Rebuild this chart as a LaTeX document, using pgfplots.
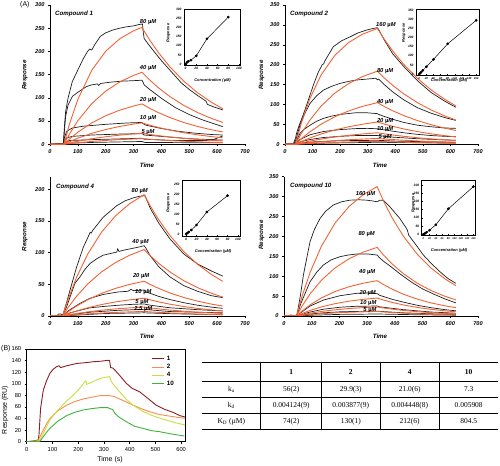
\documentclass[border=0pt]{standalone}
\usepackage{pgfplots}
\pgfplotsset{compat=1.18}
\usepackage{fontspec}
\setmainfont{Liberation Sans}
\newfontfamily\tabfont{Liberation Serif}
\definecolor{fitor}{RGB}{242,98,52}
\definecolor{expk}{RGB}{30,30,30}
\definecolor{cone}{RGB}{140,30,40}
\definecolor{ctwo}{RGB}{248,140,80}
\definecolor{cfour}{RGB}{200,224,60}
\definecolor{cten}{RGB}{60,180,60}
\pgfplotsset{
  mainax/.style={scale only axis, anchor=south west, axis x line*=bottom, axis y line*=left, tick align=outside,
    major tick length=2bp, xmin=0, xmax=700, xtick={0,100,...,700}, ymin=0,
    tick label style={font=\fontsize{5.6}{6}\selectfont\bfseries\itshape},
    /pgf/number format/assume math mode=true,
    axis line style={line width=0.5bp}, tick style={line width=0.5bp,black},
    width=195bp, height=139.3bp},
  ex/.style={color=expk, line width=0.7bp, mark=none},
  ft/.style={color=fitor, line width=0.9bp, mark=none},
  inset/.style={scale only axis, anchor=south west, tick align=inside, major tick length=1.2bp,
    xtick pos=left, ytick pos=left,
    tick label style={font=\fontsize{3.3}{3.5}\selectfont\bfseries\itshape},
    /pgf/number format/assume math mode=true,
    axis line style={line width=0.5bp}, tick style={line width=0.4bp,black},
    xticklabel style={yshift=1bp}, yticklabel style={xshift=1bp},
    axis background/.style={fill=white}},
  ip/.style={black, line width=0.5bp, mark=*, mark size=1.1bp},
}
\tikzset{lab/.style={font=\fontsize{5.8}{6}\selectfont\bfseries\itshape, inner sep=0pt},
  axl/.style={font=\fontsize{6.2}{7}\selectfont\bfseries\itshape, inner sep=0pt},
  ilab/.style={font=\fontsize{4}{4.5}\selectfont\bfseries\itshape, inner sep=0pt},
  tb/.style={font=\tabfont\fontsize{7.5}{8}\selectfont, inner sep=0pt}}
\begin{document}
\begin{tikzpicture}[x=1bp,y=1bp]
\useasboundingbox (0,0) rectangle (500,466);
% ---------------- Compound 1 ----------------
\begin{axis}[mainax, at={(50bp,321.7bp)}, ymax=300, ytick={0,50,...,300}]
\addplot[ex] coordinates {(0,0)(40,2)(48,2)(52,40)(56,70)(65,100)(80,135)(100,160)(120,185)(135,200)(142,205)(150,203)(160,214)(180,232)(200,240)(225,246)(250,250)(275,253)(300,255)(320,258)(332,259)(335,240)(338,228)(345,222)(360,210)(380,195)(400,180)(430,160)(460,140)(470,133)(480,128)(500,118)(530,105)(560,93)(565,86)(590,80)(620,74)};
\addplot[ex] coordinates {(0,0)(48,1)(52,30)(56,60)(65,85)(80,103)(100,112)(130,124)(150,128)(170,130)(175,127)(182,131)(220,134)(260,136)(300,137)(330,138)(334,134)(338,128)(360,117)(400,99)(450,79)(500,64)(550,52)(600,42)(620,38)};
\addplot[ex] coordinates {(0,0)(48,1)(52,15)(60,28)(80,35)(120,39)(200,43)(280,46)(330,47)(335,44)(345,41)(400,34)(460,28)(520,24)(580,21)(620,20)};
\addplot[ex] coordinates {(0,0)(48,1)(52,8)(60,14)(80,17)(150,20)(250,22)(330,23)(338,20)(400,17)(500,12)(620,9)};
\addplot[ex] coordinates {(0,0)(48,0)(55,4)(70,8)(150,10)(330,13)(338,11)(450,8)(560,8)(590,11)(620,18)};
\addplot[ex] coordinates {(0,0)(50,0)(60,2)(150,4)(330,6)(340,4)(620,3)};
\addplot[ft] coordinates {(0,0)(50,0)(70,43.7)(100,96.7)(150,159.5)(200,200.4)(250,227.1)(300,244.4)(330,251.7)(360,222.6)(390,196.8)(430,167.1)(480,136.1)(530,110.8)(580,90.3)(620,76.6)};
\addplot[ft] coordinates {(0,0)(50,0)(70,22.2)(100,50.7)(150,87.7)(200,114.6)(250,134.2)(300,148.4)(330,155.1)(360,137.2)(390,121.3)(430,102.9)(480,83.8)(530,68.3)(580,55.6)(620,47.2)};
\addplot[ft] coordinates {(0,0)(50,0)(70,11.2)(100,26.0)(150,46.0)(200,61.5)(250,73.4)(300,82.5)(330,86.9)(360,76.8)(390,68.0)(430,57.7)(480,47.0)(530,38.3)(580,31.2)(620,26.5)};
\addplot[ft] coordinates {(0,0)(50,0)(70,5.6)(100,13.2)(150,23.6)(200,31.8)(250,38.4)(300,43.6)(330,46.1)(360,40.8)(390,36.1)(430,30.6)(480,24.9)(530,20.3)(580,16.5)(620,14.0)};
\addplot[ft] coordinates {(0,0)(50,0)(70,2.8)(100,6.6)(150,12.0)(200,16.2)(250,19.7)(300,22.4)(330,23.8)(360,21.0)(390,18.6)(430,15.8)(480,12.9)(530,10.5)(580,8.5)(620,7.2)};
\addplot[ft] coordinates {(0,0)(50,0)(70,1.4)(100,3.4)(150,6.1)(200,8.3)(250,10.1)(300,11.5)(330,12.2)(360,10.8)(390,9.5)(430,8.1)(480,6.6)(530,5.4)(580,4.4)(620,3.7)};
\node[lab] at (axis cs:352,263.6) {80 {\upshape µ}M};
\node[lab] at (axis cs:352,163.8) {40 {\upshape µ}M};
\node[lab] at (axis cs:352,95.5) {20 {\upshape µ}M};
\node[lab] at (axis cs:352,56) {10 {\upshape µ}M};
\node[lab] at (axis cs:352,27) {5 {\upshape µ}M};
\end{axis}
% ---------------- Compound 2 ----------------
\begin{axis}[mainax, at={(285bp,321.7bp)}, width=193bp, ymax=350, ytick={0,50,...,350}]
\addplot[ex] coordinates {(0,0)(30,0)(34,8)(38,15)(42,28)(50,45)(66,74)(85,112)(103,149)(120,180)(135,200)(140,202)(145,210)(175,245)(205,260)(236,270)(265,280)(296,287)(320,291)(335,293)(340,288)(360,262)(390,228)(430,196)(480,160)(530,130)(580,108)(620,93)};
\addplot[ex] coordinates {(0,0)(30,0)(35,5)(40,12)(54,48)(70,75)(91,103)(115,122)(139,136)(170,146)(200,153)(230,158)(260,161.5)(300,164)(330,166)(335,162)(340,164)(360,150)(390,132)(430,112)(480,92)(530,78)(580,67)(620,60)};
\addplot[ex] coordinates {(0,0)(35,2)(40,6)(54,27)(70,38)(91,48)(115,58)(139,65)(170,71)(200,75)(260,79.5)(300,79)(335,77)(340,75)(360,70)(390,63)(430,55)(480,48)(530,44)(580,41)(620,40)};
\addplot[ex] coordinates {(0,0)(38,1)(54,12)(91,24)(139,32)(200,37)(260,39.5)(300,40)(335,39)(390,33)(430,29)(480,25)(530,22)(580,20)(620,19)};
\addplot[ex] coordinates {(0,0)(38,0)(54,6)(91,12)(139,17)(200,20)(260,22)(335,22)(390,18)(480,14)(580,11)(620,10)};
\addplot[ex] coordinates {(0,0)(40,0)(54,3)(100,6)(200,9)(335,10)(400,8)(620,5)};
\addplot[ex] coordinates {(0,0)(40,0)(60,1)(150,3)(335,5)(620,3)};
\addplot[ft] coordinates {(0,0)(38,0)(60,54.7)(90,114.2)(130,173.0)(180,222.9)(230,255.3)(280,276.3)(335,291)(360,264.1)(390,235.1)(430,201.3)(480,165.9)(530,136.6)(580,112.6)(620,96.4)};
\addplot[ft] coordinates {(0,0)(38,0)(60,28.0)(90,60.5)(130,95.3)(180,128.2)(230,152.3)(280,169.8)(335,183.7)(360,166.7)(390,148.4)(430,127.1)(480,104.7)(530,86.2)(580,71.1)(620,60.8)};
\addplot[ft] coordinates {(0,0)(38,0)(60,14.2)(90,31.2)(130,50.1)(180,69.0)(230,83.6)(280,95.0)(335,104.6)(360,94.9)(390,84.5)(430,72.4)(480,59.6)(530,49.1)(580,40.5)(620,34.6)};
\addplot[ft] coordinates {(0,0)(38,0)(60,7.1)(90,15.8)(130,25.7)(180,35.8)(230,43.9)(280,50.3)(335,56.0)(360,50.8)(390,45.2)(430,38.7)(480,31.9)(530,26.3)(580,21.7)(620,18.5)};
\addplot[ft] coordinates {(0,0)(38,0)(60,3.6)(90,8.0)(130,13.0)(180,18.2)(230,22.5)(280,25.9)(335,29.0)(360,26.3)(390,23.4)(430,20.1)(480,16.5)(530,13.6)(580,11.2)(620,9.6)};
\addplot[ft] coordinates {(0,0)(38,0)(60,1.8)(90,4.0)(130,6.5)(180,9.2)(230,11.4)(280,13.1)(335,14.7)(360,13.3)(390,11.9)(430,10.2)(480,8.4)(530,6.9)(580,5.7)(620,4.9)};
\addplot[ft] coordinates {(0,0)(38,0)(60,0.9)(90,2.0)(130,3.3)(180,4.7)(230,5.8)(280,6.7)(335,7.4)(360,6.7)(390,6.0)(430,5.1)(480,4.2)(530,3.5)(580,2.9)(620,2.5)};
\node[lab] at (axis cs:366,300) {160 {\upshape µ}M};
\node[lab] at (axis cs:363,184) {80 {\upshape µ}M};
\node[lab] at (axis cs:363,107) {40 {\upshape µ}M};
\node[lab] at (axis cs:363,59) {20 {\upshape µ}M};
\node[lab] at (axis cs:363,37.7) {10 {\upshape µ}M};
\node[lab] at (axis cs:363,19) {5 {\upshape µ}M};
\end{axis}
% ---------------- Compound 4 ----------------
\begin{axis}[mainax, at={(50bp,150bp)}, ymax=220, ytick={0,50,...,200}]
\addplot[ex] coordinates {(0,0)(25,0)(30,3)(40,3)(45,1)(48,4)(60,22)(72,41)(96,78)(120,109)(140,128)(144,132)(148,131)(153,135)(191,156)(239,174)(270,182)(299,186.5)(320,189)(341,190)(345,186)(360,170)(390,147)(430,122)(480,98)(530,82)(580,71)(620,63)};
\addplot[ex] coordinates {(0,0)(45,1)(60,15)(72,30)(90,52)(108,62)(126,74)(144,83)(170,91)(191,96)(220,99)(240,101)(243,106)(248,102)(265,104)(287,106)(320,109)(338,111)(343,108)(360,95)(390,78)(430,62)(480,48)(530,39)(580,32)(620,29)};
\addplot[ex] coordinates {(0,0)(45,1)(60,6)(72,10)(108,20)(144,28)(191,34)(245,38)(280,39)(290,42)(300,40)(338,41)(345,38)(390,31)(430,26)(480,21)(530,17)(580,14)(620,12)};
\addplot[ex] coordinates {(0,0)(45,0)(72,5)(108,9)(144,13)(191,15)(245,17)(300,18.5)(338,19)(360,17)(430,13)(530,10)(620,8)};
\addplot[ex] coordinates {(0,0)(50,0)(72,2)(144,6)(245,9)(338,10.5)(430,7)(620,5)};
\addplot[ex] coordinates {(0,0)(50,0)(100,1.5)(200,4)(338,5)(450,3.5)(620,2)};
\addplot[ft] coordinates {(0,0)(45,0)(65,26.5)(95,60.7)(135,97.5)(185,132.4)(235,158.1)(285,177.1)(338,191.7)(360,173.8)(390,152.1)(430,127.3)(480,101.9)(530,81.6)(580,65.3)(620,54.7)};
\addplot[ft] coordinates {(0,0)(45,0)(65,13.4)(95,30.9)(135,50.4)(185,69.7)(235,84.4)(285,95.8)(338,104.9)(360,95.1)(390,83.2)(430,69.7)(480,55.8)(530,44.7)(580,35.8)(620,29.9)};
\addplot[ft] coordinates {(0,0)(45,0)(65,6.7)(95,15.6)(135,25.6)(185,35.7)(235,43.6)(285,49.8)(338,54.9)(360,49.8)(390,43.6)(430,36.5)(480,29.2)(530,23.4)(580,18.7)(620,15.7)};
\addplot[ft] coordinates {(0,0)(45,0)(65,3.4)(95,7.9)(135,12.9)(185,18.1)(235,22.2)(285,25.4)(338,28.1)(360,25.5)(390,22.3)(430,18.7)(480,14.9)(530,12.0)(580,9.6)(620,8.0)};
\addplot[ft] coordinates {(0,0)(45,0)(65,1.7)(95,3.9)(135,6.5)(185,9.1)(235,11.2)(285,12.8)(338,14.2)(360,12.9)(390,11.3)(430,9.4)(480,7.6)(530,6.0)(580,4.8)(620,4.1)};
\addplot[ft] coordinates {(0,0)(45,0)(65,0.85)(95,2.0)(135,3.3)(185,4.6)(235,5.7)(285,6.5)(338,7.2)(360,6.5)(390,5.7)(430,4.8)(480,3.8)(530,3.1)(580,2.5)(620,2.1)};
\node[lab] at (axis cs:322,198) {80 {\upshape µ}M};
\node[lab] at (axis cs:325,116.7) {40 {\upshape µ}M};
\node[lab] at (axis cs:327,63.4) {20 {\upshape µ}M};
\node[lab] at (axis cs:335,38) {10 {\upshape µ}M};
\node[lab] at (axis cs:330,22.5) {5 {\upshape µ}M};
\node[lab] at (axis cs:335,11) {2.5 {\upshape µ}M};
\end{axis}
% ---------------- Compound 10 ----------------
\begin{axis}[mainax, at={(284bp,150bp)}, width=194bp, ymax=350, ytick={0,50,...,350}]
\addplot[ex] coordinates {(0,0)(20,0)(25,3)(30,0)(45,0)(50,15)(60,55)(70,103)(94,187)(110,218)(130,245)(150,263)(178,279)(208,287)(238,291)(270,292)(298,291)(320,289)(337,287)(345,291)(358,291)(380,276)(418,245)(440,222)(445,216)(450,203)(480,175)(503,153)(530,133)(563,111)(590,95)(620,82)};
\addplot[ex] coordinates {(0,0)(45,0)(50,8)(60,30)(75,55)(94,86)(118,110)(142,128)(170,141)(202,149)(230,153)(262,155.8)(300,156)(337,153)(342,148)(360,137)(382,126)(420,105)(460,85)(500,68)(540,55)(580,43)(620,33)};
\addplot[ex] coordinates {(0,0)(45,0)(60,8)(94,25)(142,40)(202,51)(262,57)(300,58)(337,56)(345,52)(390,42)(430,35)(480,27)(530,21)(580,16)(620,13)};
\addplot[ex] coordinates {(0,0)(45,0)(60,3)(94,10)(142,17)(202,22)(262,24.5)(337,25)(345,23)(430,16)(530,10)(620,7)};
\addplot[ex] coordinates {(0,0)(50,0)(94,5)(142,8)(202,10.5)(262,11.5)(337,12)(430,8)(530,5.5)(620,4)};
\addplot[ex] coordinates {(0,0)(50,0)(100,2)(200,4)(337,5)(450,3.5)(620,2)};
\addplot[ft] coordinates {(0,0)(45,0)(65,49.2)(95,111.0)(135,175.4)(185,234.2)(235,275.4)(285,304.3)(336,325)(360,287.6)(390,246.8)(430,201.2)(480,155.9)(530,120.8)(580,93.6)(620,76.3)};
\addplot[ft] coordinates {(0,0)(45,0)(65,24.7)(95,56.3)(135,89.9)(185,121.3)(235,143.9)(285,160.3)(336,172.4)(360,152.5)(390,130.9)(430,106.8)(480,82.7)(530,64.1)(580,49.7)(620,40.5)};
\addplot[ft] coordinates {(0,0)(45,0)(65,12.4)(95,28.3)(135,45.5)(185,61.7)(235,73.6)(285,82.3)(336,88.8)(360,78.6)(390,67.4)(430,55.0)(480,42.6)(530,33.0)(580,25.6)(620,20.9)};
\addplot[ft] coordinates {(0,0)(45,0)(65,6.2)(95,14.2)(135,22.9)(185,31.1)(235,37.3)(285,41.8)(336,45.1)(360,39.9)(390,34.2)(430,27.9)(480,21.6)(530,16.8)(580,13.0)(620,10.6)};
\addplot[ft] coordinates {(0,0)(45,0)(65,3.1)(95,7.1)(135,11.5)(185,15.6)(235,18.8)(285,21.0)(336,22.7)(360,20.1)(390,17.2)(430,14.1)(480,10.9)(530,8.4)(580,6.5)(620,5.3)};
\addplot[ft] coordinates {(0,0)(45,0)(65,1.6)(95,3.6)(135,5.8)(185,7.8)(235,9.4)(285,10.5)(336,11.4)(360,10.1)(390,8.7)(430,7.1)(480,5.5)(530,4.2)(580,3.3)(620,2.7)};
\node[lab] at (axis cs:294,305.8) {160 {\upshape µ}M};
\node[lab] at (axis cs:298,205) {80 {\upshape µ}M};
\node[lab] at (axis cs:300,110) {40 {\upshape µ}M};
\node[lab] at (axis cs:302,57) {20 {\upshape µ}M};
\node[lab] at (axis cs:304,33.4) {10 {\upshape µ}M};
\node[lab] at (axis cs:310,15) {5 {\upshape µ}M};
\end{axis}
% ---------------- Insets ----------------
\begin{axis}[inset, at={(184bp,401bp)}, width=56bp, height=56bp, xmin=-3, xmax=102, ymin=-4, ymax=300, xtick={0,20,...,100}, ytick={0,50,...,300}]
\addplot[ip] coordinates {(0,0)(2.5,10)(5,16)(10,22)(20,46)(40,138)(80,256)};
\end{axis}
\begin{axis}[inset, at={(416bp,391bp)}, width=63bp, height=66bp, xmin=-9, xmax=168, ymin=-5, ymax=355, xtick={0,20,...,160}, ytick={0,50,...,350},
  xticklabel style={font=\fontsize{2.8}{3}\selectfont\bfseries\itshape}]
\addplot[ip] coordinates {(0,0)(2.5,5)(5,10)(10,20)(20,40)(40,80)(80,165)(160,293)};
\end{axis}
\begin{axis}[inset, at={(182bp,230bp)}, width=58bp, height=56bp, xmin=-8, xmax=104, ymin=-10, ymax=270, xtick={0,20,...,100}, ytick={0,50,...,250}]
\addplot[ip] coordinates {(0,0)(2.5,5)(5,10)(10,20)(20,45)(40,110)(80,192)};
\end{axis}
\begin{axis}[inset, at={(421.7bp,231bp)}, width=53.3bp, height=55bp, xmin=-5, xmax=165, ymin=-4, ymax=330, xtick={0,20,...,160}, ytick={0,50,...,300},
  xticklabel style={font=\fontsize{2.6}{3}\selectfont\bfseries\itshape}]
\addplot[ip] coordinates {(0,0)(5,5)(10,12)(20,25)(40,58)(80,155)(160,290)};
\end{axis}
% ---------------- Panel B ----------------
\begin{axis}[scale only axis, anchor=south west, at={(26.7bp,24.3bp)}, width=158.3bp, height=92.7bp,
  xmin=0, xmax=615, ymin=0, ymax=160, xtick={0,100,...,600}, ytick={0,20,...,160},
  tick align=outside, major tick length=2bp, xtick pos=left, ytick pos=left,
  tick label style={font=\fontsize{5.8}{6}\selectfont},
  /pgf/number format/assume math mode=true,
  axis line style={line width=0.5bp}, tick style={line width=0.5bp,black},
  legend style={draw=none, fill=none, at={(0.79,0.95)}, anchor=north west,
    font=\fontsize{6.3}{7}\selectfont\bfseries, row sep=-1.5bp, inner sep=0pt},
  legend cell align=left,
  legend image code/.code={\draw[#1] (0bp,0bp) -- (12bp,0bp);}]
\addplot[cone, line width=0.9bp, mark=none] coordinates {(0,0)(20,1)(35,2)(45,3)(47.7,11.5)(54,57.6)(64.5,89)(77,105)(90,118)(103,125)(116,129.5)(126,131)(131.6,127.8)(140,129)(155,131)(194,135)(230,136.5)(258,138)(290,139)(316,140.5)(322,140)(326,128)(335,127)(342,124)(360,115)(387,100.7)(410,92)(439,86)(470,75)(503,63)(535,56)(568,50.7)(595,45)(615,42.6)};
\addlegendentry{1}
\addplot[ctwo, line width=0.9bp, mark=none] coordinates {(0,0)(30,1)(45,2)(48,5.8)(60,16)(75,29)(90,40)(120,53)(155,63)(185,69)(219,73.7)(250,76.5)(284,79.4)(322,79.4)(340,78)(361,73.7)(385,69)(413,63)(445,57)(477,51.8)(510,47.5)(542,45)(580,42.5)(615,40.3)};
\addlegendentry{2}
\addplot[cfour, line width=0.9bp, mark=none] coordinates {(0,0)(45,1)(48,1)(60,10)(75,24)(90,37.4)(120,54)(155,70)(180,80)(206,92)(226,103.6)(230,105)(232,99)(250,102)(284,109)(316,112)(322,112)(329,103.6)(340,97)(361,86)(385,74)(413,63)(445,54)(477,47)(510,41.5)(542,37.4)(580,32.5)(615,28.8)};
\addlegendentry{4}
\addplot[cten, line width=0.9bp, mark=none] coordinates {(0,0)(45,0)(52,1)(60,6)(75,15)(90,23)(120,35)(155,45)(185,50.5)(219,54.7)(250,57)(284,58.7)(316,58.7)(322,57)(329,56.4)(335,55)(342,49)(360,42)(387,34.5)(420,26.5)(452,23)(485,19)(516,17.3)(560,13.5)(613,9.8)};
\addlegendentry{10}
\end{axis}
% ---------------- Labels ----------------
\node[font=\fontsize{7}{8}\selectfont, anchor=west, inner sep=0pt] at (20,461) {(A)};
\node[font=\fontsize{7}{8}\selectfont, anchor=west, inner sep=0pt] at (1,117) {(B)};
\node[axl, anchor=west] at (55,452) {Compound 1};
\node[axl, anchor=west] at (290,452) {Compound 2};
\node[axl, anchor=west] at (56,279.3) {Compound 4};
\node[axl, anchor=west] at (290,280.3) {Compound 10};
\node[axl] at (147,301) {Time};
\node[axl] at (380,301) {Time};
\node[axl] at (147,130) {Time};
\node[axl] at (380,130) {Time};
\node[axl, rotate=90] at (25,391) {Response};
\node[axl, rotate=90] at (261.7,391) {Response};
\node[axl, rotate=90] at (25,229.3) {Response};
\node[axl, rotate=90] at (261.7,231) {Response};
\node[ilab, rotate=90] at (168.3,432.7) {Response};
\node[ilab] at (212.5,385.3) {Concentration ({\upshape µ}M)};
\node[ilab, rotate=90] at (404,433) {Response};
\node[ilab] at (449,385.3) {Concentration ({\upshape µ}M)};
\node[ilab, rotate=90] at (168.3,262.7) {Response};
\node[ilab] at (213,215) {Concentration ({\upshape µ}M)};
\node[ilab, rotate=90] at (413.3,262.7) {Response};
\node[ilab] at (449,216) {Concentration ({\upshape µ}M)};
\node[font=\fontsize{7}{8}\selectfont, rotate=90, inner sep=0pt] at (5,56) {Response (RU)};
\node[font=\fontsize{7}{8}\selectfont, inner sep=0pt] at (110,6) {Time (s)};
% ---------------- Table ----------------
\draw[line width=1.1bp] (202,103.3) -- (498,103.3);
\draw[line width=0.5bp] (202,85) -- (498,85);
\draw[line width=0.5bp] (202,68.3) -- (498,68.3);
\draw[line width=0.5bp] (202,52.7) -- (498,52.7);
\draw[line width=1.1bp] (202,36.7) -- (498,36.7);
\foreach \xx in {260.7,321.7,380,439.3} {\draw[line width=0.5bp] (\xx,103.3) -- (\xx,36.7);}
\node[tb] at (291.2,94.2) {\bfseries 1};
\node[tb] at (350.8,94.2) {\bfseries 2};
\node[tb] at (409.7,94.2) {\bfseries 4};
\node[tb] at (468.7,94.2) {\bfseries 10};
\node[tb] at (231.3,76.7) {k\textsubscript{a}};
\node[tb] at (291.2,76.7) {56(2)};
\node[tb] at (350.8,76.7) {29.9(3)};
\node[tb] at (409.7,76.7) {21.0(6)};
\node[tb] at (468.7,76.7) {7.3};
\node[tb] at (231.3,60.5) {k\textsubscript{d}};
\node[tb] at (291.2,60.5) {0.004124(9)};
\node[tb] at (350.8,60.5) {0.003877(9)};
\node[tb] at (409.7,60.5) {0.004448(8)};
\node[tb] at (468.7,60.5) {0.005908};
\node[tb] at (231.3,44.7) {K\textsubscript{D} (µM)};
\node[tb] at (291.2,44.7) {74(2)};
\node[tb] at (350.8,44.7) {130(1)};
\node[tb] at (409.7,44.7) {212(6)};
\node[tb] at (468.7,44.7) {804.5};
\end{tikzpicture}
\end{document}
